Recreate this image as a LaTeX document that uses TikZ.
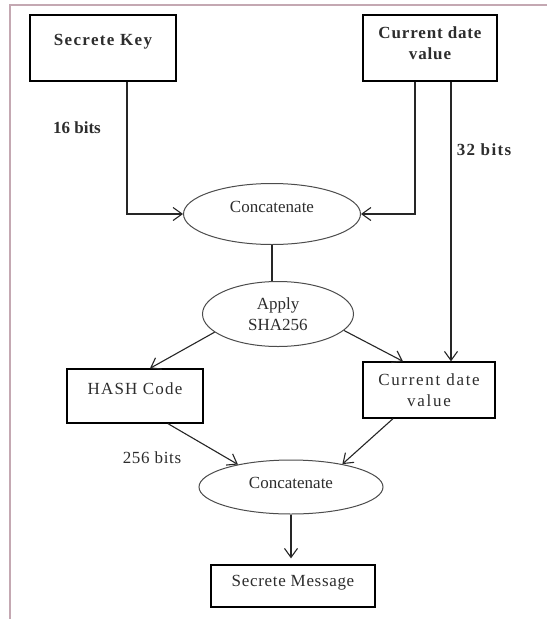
\documentclass[tikz,border=0pt]{standalone}
\usepackage{fontspec}
\setmainfont{Liberation Serif}
\newfontfamily\lsA[LetterSpace=4]{Liberation Serif}
\newfontfamily\lsB[LetterSpace=5]{Liberation Serif}
\newfontfamily\lsC[LetterSpace=7]{Liberation Serif}
\newfontfamily\lsD[LetterSpace=8]{Liberation Serif}
\newfontfamily\lsE[LetterSpace=10]{Liberation Serif}
\usetikzlibrary{shapes.geometric,arrows.meta}
\definecolor{framec}{RGB}{196,168,178}
\definecolor{txtc}{RGB}{45,45,45}
\begin{document}
\begin{tikzpicture}[x=1pt,y=-1pt,
  every node/.style={font=\fontsize{17}{21}\selectfont, text=txtc},
  box/.style={draw=black, line width=1.3pt, rectangle, inner sep=0pt, align=center},
  oval/.style={draw=black!70, line width=1pt, ellipse, inner sep=0pt, align=center},
  conn/.style={draw=black!85, line width=1.1pt},
  arr/.style={conn, -{Straight Barb[length=9pt,width=13pt,line width=1.1pt]}},
  lbl/.style={inner sep=0pt}]
\useasboundingbox (0,0) rectangle (547,619);
\fill[white] (0,0) rectangle (547,619);
\draw[framec, line width=1.3pt] (10,619) -- (10,5) -- (547,5);

% boxes
\node[box, font=\fontsize{17}{21}\lsD\bfseries, minimum width=146pt, minimum height=66pt, text height=12pt, text depth=18pt] (sk) at (103,48) {Secrete Key};
\node[box, font=\fontsize{17}{21}\lsB\bfseries, minimum width=134pt, minimum height=66pt, text height=20pt, text depth=17pt] (cd1) at (430,48) {\begin{tabular}{@{}c@{}}Current date\\value\end{tabular}};
\node[box, font=\fontsize{17}{21}\lsC, minimum width=136pt, minimum height=54pt, text height=12pt, text depth=16pt] (hash) at (135,396) {HASH Code};
\node[box, font=\fontsize{17}{21}\lsE, minimum width=132pt, minimum height=56pt] (cd2) at (429,390) {Current date\\value};
\node[box, font=\fontsize{17}{21}\lsA, minimum width=164pt, minimum height=42pt, text height=12pt, text depth=12pt] (sm) at (293,586) {Secrete Message};

% ellipses
\node[oval, minimum width=177pt, minimum height=61pt, text height=12pt, text depth=16pt] (conc1) at (272,214) {Concatenate};
\node[oval, minimum width=151pt, minimum height=65pt] (sha) at (278,314) {Apply\\SHA256};
\node[oval, minimum width=184pt, minimum height=54pt, text height=12pt, text depth=10pt] (conc2) at (291,487) {Concatenate};

% labels
\node[lbl, font=\fontsize{17}{21}\selectfont\bfseries] (b16) at (77,128) {16 bits};
\node[lbl, font=\fontsize{17}{21}\lsD\bfseries] (b32) at (484,150) {32 bits};
\node[lbl, font=\fontsize{17}{21}\lsA] (b256) at (152,458) {256 bits};

% connectors
\coordinate (skout) at ([xshift=24pt]sk.south);
\coordinate (cdl) at ([xshift=-15pt]cd1.south);
\coordinate (cdr) at ([xshift=21pt]cd1.south);
\draw[arr] (skout) |- (conc1.west);
\draw[arr] (cdl) |- (conc1.east);
\draw[arr] (cdr) -- (cdr |- cd2.north);
\draw[conn] (conc1.south) -- (conc1.south |- sha.north);
\draw[arr] (sha.196) -- ([xshift=15pt]hash.north);
\draw[arr] (sha.346) -- ([xshift=-26pt]cd2.north);
\draw[arr] ([xshift=33pt]hash.south) -- (conc2.157);
\draw[arr] ([xshift=-36pt]cd2.south) -- (conc2.24);
\draw[arr, shorten >=6pt] (conc2.south) -- (conc2.south |- sm.north);
\end{tikzpicture}
\end{document}
